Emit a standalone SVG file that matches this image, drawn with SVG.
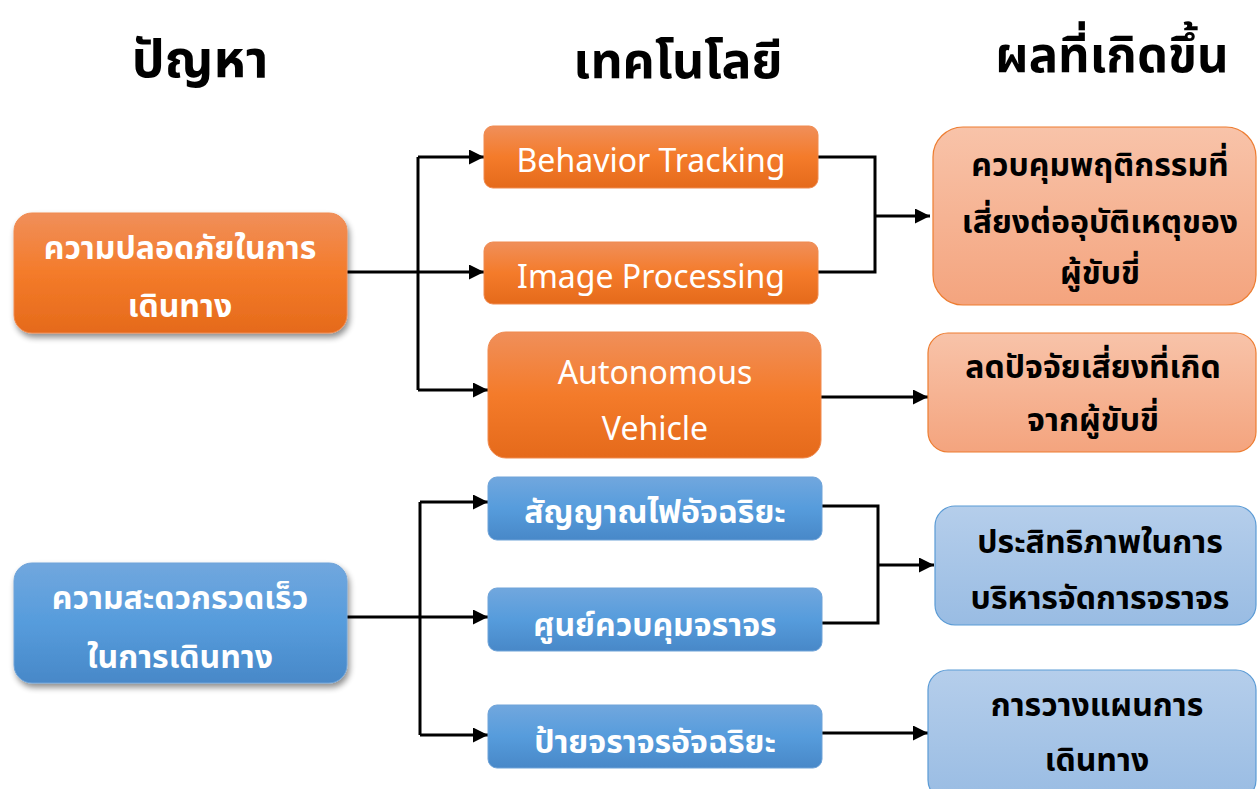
<svg xmlns="http://www.w3.org/2000/svg" width="1257" height="789" viewBox="0 0 1257 789">
  <defs>
    <linearGradient id="gOrange" x1="0" y1="0" x2="0" y2="1">
      <stop offset="0" stop-color="#F08F5A"/>
      <stop offset="0.5" stop-color="#F47B2A"/>
      <stop offset="1" stop-color="#E56A1B"/>
    </linearGradient>
    <linearGradient id="gBlue" x1="0" y1="0" x2="0" y2="1">
      <stop offset="0" stop-color="#71A7DE"/>
      <stop offset="0.5" stop-color="#569CDC"/>
      <stop offset="1" stop-color="#4888C8"/>
    </linearGradient>
    <linearGradient id="gSalmon" x1="0" y1="0" x2="0" y2="1">
      <stop offset="0" stop-color="#F8C3A9"/>
      <stop offset="1" stop-color="#F4A47E"/>
    </linearGradient>
    <linearGradient id="gSky" x1="0" y1="0" x2="0" y2="1">
      <stop offset="0" stop-color="#B5CEEB"/>
      <stop offset="1" stop-color="#99BCE3"/>
    </linearGradient>
    <filter id="shadow" x="-10%" y="-10%" width="125%" height="130%">
      <feGaussianBlur in="SourceAlpha" stdDeviation="3"/>
      <feOffset dx="2" dy="4" result="b"/>
      <feComponentTransfer><feFuncA type="linear" slope="0.45"/></feComponentTransfer>
      <feMerge><feMergeNode/><feMergeNode in="SourceGraphic"/></feMerge>
    </filter>
    <marker id="arrow" viewBox="0 0 10 10" refX="10" refY="5" markerWidth="5.2" markerHeight="5" markerUnits="strokeWidth" orient="auto">
      <path d="M0,0 L10,5 L0,10 z" fill="#000"/>
    </marker>
  </defs>
  <style>
    text { font-family: "Noto Sans Thai", "Noto Sans", "DejaVu Sans", sans-serif; text-anchor: middle; }
    .head { font-size: 50px; font-weight: bold; fill: #000; }
    .wt { fill: #fff; font-size: 32px; font-weight: bold; }
    .en { fill: #fff; font-size: 32px; }
    .bt { fill: #000; font-size: 32px; font-weight: bold; }
    .or { fill: url(#gOrange); stroke: #F08A4F; stroke-width: 1; }
    .bl { fill: url(#gBlue); stroke: #6FA3D8; stroke-width: 1; }
    .sa { fill: url(#gSalmon); stroke: #ED7D31; stroke-width: 1.2; }
    .sk { fill: url(#gSky); stroke: #5B9BD5; stroke-width: 1.2; }
    .ln { fill: none; stroke: #000; stroke-width: 3; }
  </style>

  <rect width="1257" height="789" fill="#fff"/>

  <!-- column headings -->
  <text class="head" x="200" y="77" style="font-size:52px">ปัญหา</text>
  <text class="head" x="678" y="78">เทคโนโลยี</text>
  <text class="head" x="1112" y="72" style="font-size:49px">ผลที่เกิดขึ้น</text>

  <!-- connectors -->
  <g id="connectors">
    <polyline class="ln" points="347,272 418,272"/>
    <polyline class="ln" points="418,157 418,390"/>
    <polyline class="ln" points="418,157 484,157" marker-end="url(#arrow)"/>
    <polyline class="ln" points="418,272 484,272" marker-end="url(#arrow)"/>
    <polyline class="ln" points="418,390 488,390" marker-end="url(#arrow)"/>
    <polyline class="ln" points="818,157 875,157 875,272 818,272"/>
    <polyline class="ln" points="875,216 930,216" marker-end="url(#arrow)"/>
    <polyline class="ln" points="821,397 928,397" marker-end="url(#arrow)"/>

    <polyline class="ln" points="347,617 420,617"/>
    <polyline class="ln" points="420,502 420,735"/>
    <polyline class="ln" points="420,502 488,502" marker-end="url(#arrow)"/>
    <polyline class="ln" points="420,617 488,617" marker-end="url(#arrow)"/>
    <polyline class="ln" points="420,735 488,735" marker-end="url(#arrow)"/>
    <polyline class="ln" points="822,506 878,506 878,623 822,623"/>
    <polyline class="ln" points="878,565 934,565" marker-end="url(#arrow)"/>
    <polyline class="ln" points="822,733 928,733" marker-end="url(#arrow)"/>
  </g>

  <!-- problems -->
  <g id="safety">
    <rect class="or" x="14" y="213" width="333" height="120" rx="18" filter="url(#shadow)"/>
    <text class="wt" x="180" y="259">ความปลอดภัยในการ</text>
    <text class="wt" x="180" y="317">เดินทาง</text>
  </g>
  <g id="convenience">
    <rect class="bl" x="14" y="563" width="333" height="120" rx="18" filter="url(#shadow)"/>
    <text class="wt" x="180" y="609">ความสะดวกรวดเร็ว</text>
    <text class="wt" x="180" y="668">ในการเดินทาง</text>
  </g>

  <!-- technologies -->
  <g id="behavior-tracking">
    <rect class="or" x="484" y="126" width="334" height="62" rx="9"/>
    <text class="en" x="651" y="172">Behavior Tracking</text>
  </g>
  <g id="image-processing">
    <rect class="or" x="484" y="242" width="334" height="62" rx="9"/>
    <text class="en" x="651" y="288">Image Processing</text>
  </g>
  <g id="autonomous-vehicle">
    <rect class="or" x="488" y="332" width="333" height="126" rx="18"/>
    <text class="en" x="655" y="384">Autonomous</text>
    <text class="en" x="655" y="440">Vehicle</text>
  </g>
  <g id="smart-signal">
    <rect class="bl" x="488" y="477" width="334" height="63" rx="9"/>
    <text class="wt" x="655" y="523">สัญญาณไฟอัจฉริยะ</text>
  </g>
  <g id="traffic-center">
    <rect class="bl" x="488" y="588" width="334" height="63" rx="9"/>
    <text class="wt" x="655" y="636">ศูนย์ควบคุมจราจร</text>
  </g>
  <g id="smart-sign">
    <rect class="bl" x="488" y="705" width="334" height="63" rx="9"/>
    <text class="wt" x="655" y="753">ป้ายจราจรอัจฉริยะ</text>
  </g>

  <!-- outcomes -->
  <g id="risk-behavior">
    <rect class="sa" x="933" y="127" width="323" height="178" rx="30"/>
    <text class="bt" x="1100" y="176">ควบคุมพฤติกรรมที่</text>
    <text class="bt" x="1100" y="233">เสี่ยงต่ออุบัติเหตุของ</text>
    <text class="bt" x="1100" y="284">ผู้ขับขี่</text>
  </g>
  <g id="driver-risk">
    <rect class="sa" x="928" y="333" width="328" height="119" rx="20"/>
    <text class="bt" x="1093" y="378">ลดปัจจัยเสี่ยงที่เกิด</text>
    <text class="bt" x="1093" y="431">จากผู้ขับขี่</text>
  </g>
  <g id="traffic-management">
    <rect class="sk" x="935" y="506" width="321" height="119" rx="20"/>
    <text class="bt" x="1100" y="553">ประสิทธิภาพในการ</text>
    <text class="bt" x="1100" y="609">บริหารจัดการจราจร</text>
  </g>
  <g id="trip-planning">
    <rect class="sk" x="928" y="670" width="328" height="130" rx="20"/>
    <text class="bt" x="1097" y="716">การวางแผนการ</text>
    <text class="bt" x="1097" y="771">เดินทาง</text>
  </g>
</svg>
